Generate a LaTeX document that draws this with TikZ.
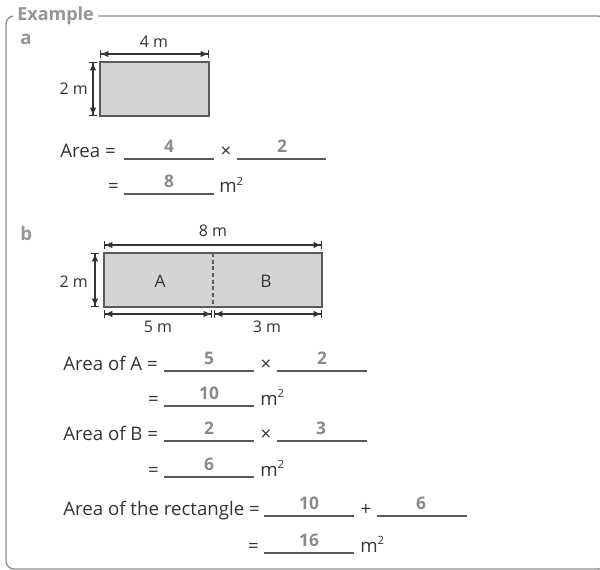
\documentclass[tikz,border=0pt]{standalone}
\usepackage{fontspec}
\setmainfont{Open Sans}
\usetikzlibrary{arrows.meta}
\definecolor{rahmengrau}{HTML}{8E8E8E}
\definecolor{titelgrau}{HTML}{959595}
\definecolor{antwortgrau}{HTML}{8A8A8A}
\definecolor{flaeche}{HTML}{D4D4D6}
\definecolor{kante}{HTML}{5A5A5A}
\definecolor{tinte}{HTML}{333333}
\newcommand{\qm}{m\raisebox{0.75ex}{\fontsize{8.5}{9}\selectfont 2}}

\begin{document}
\begin{tikzpicture}[x=0.75pt,y=-0.75pt,
rahmen/.style={draw=rahmengrau,line width=1pt,rounded corners=6pt},
titel/.style={text=titelgrau,fill=white,font=\fontsize{13.5}{15}\selectfont\bfseries,inner xsep=3pt,inner ysep=1pt},
teil/.style={text=titelgrau,font=\fontsize{14}{16}\selectfont\bfseries,inner sep=0pt},
rechteck/.style={draw=kante,fill=flaeche,line width=0.9pt},
bemassung/.style={draw=tinte,line width=0.8pt,{Bar[width=6.5pt]Latex[length=5.5pt,width=5pt]}-{Latex[length=5.5pt,width=5pt]Bar[width=6.5pt]}},
masz/.style={text=tinte,font=\fontsize{12}{14}\selectfont,inner sep=0pt},
zeile/.style={text=tinte,font=\fontsize{14}{16}\selectfont,inner sep=0pt},
antwort/.style={text=antwortgrau,font=\fontsize{13}{15}\selectfont\bfseries,inner sep=0pt,anchor=base},
linie/.style={draw=kante,line width=0.8pt}]

\useasboundingbox (0,0) rectangle (600,570);

% Rahmen
\draw[rahmen] (6,16) rectangle (606,569);
\node[titel,anchor=base west] (example) at (13,21) {Example};

% Teil a
\node[teil,anchor=base west] (teila) at (20,45) {a};
\coordinate (a1) at (100,62);
\coordinate (a2) at (209,116);
\draw[rechteck] (a1) rectangle (a2);
\coordinate (aob1) at (100,54);
\coordinate (aob2) at (209,54);
\draw[bemassung] (aob1) -- (aob2);
\node[masz,anchor=base] (vierm) at (154,48) {4 m};
\coordinate (ali1) at (93,62);
\coordinate (ali2) at (93,116);
\draw[bemassung] (ali1) -- (ali2);
\node[masz,anchor=base east] (zweima) at (88,95) {2 m};

% Rechnung a
\def\Y{158}
\node[zeile,anchor=base west] (areaa) at (60,\Y) {Area =};
\draw[linie] (124,\Y+1) -- (214,\Y+1);
\node[antwort] (aw1) at (169,\Y-5) {4};
\node[zeile,anchor=base] (mal1) at (226,\Y) {×};
\draw[linie] (237,\Y+1) -- (326,\Y+1);
\node[antwort] (aw2) at (282,\Y-5) {2};
\def\Y{193}
\node[zeile,anchor=base east] (gl1) at (119,\Y) {=};
\draw[linie] (124,\Y+1) -- (214,\Y+1);
\node[antwort] (aw3) at (169,\Y-5) {8};
\node[zeile,anchor=base west] (m1) at (219,\Y) {\qm};

% Teil b
\node[teil,anchor=base west] (teilb) at (20,241) {b};
\coordinate (b1) at (104,253);
\coordinate (b2) at (322,307);
\draw[rechteck] (b1) rectangle (b2);
\coordinate (bmo) at (213,253);
\coordinate (bmu) at (213,307);
\draw[kante,line width=0.8pt,dash pattern=on 3pt off 2pt] (bmo) -- (bmu);
\node[zeile,font=\fontsize{13}{15}\selectfont,anchor=base] (feldA) at (160,288) {A};
\node[zeile,font=\fontsize{13}{15}\selectfont,anchor=base] (feldB) at (266,288) {B};
\coordinate (bob1) at (104,245);
\coordinate (bob2) at (322,245);
\draw[bemassung] (bob1) -- (bob2);
\node[masz,anchor=base] (achtm) at (213,237) {8 m};
\coordinate (bli1) at (95,253);
\coordinate (bli2) at (95,307);
\draw[bemassung] (bli1) -- (bli2);
\node[masz,anchor=base east] (zweimb) at (88,288) {2 m};
\coordinate (bun1) at (104,314);
\coordinate (bun2) at (212,314);
\coordinate (bun3) at (214,314);
\coordinate (bun4) at (322,314);
\draw[bemassung] (bun1) -- (bun2);
\draw[bemassung] (bun3) -- (bun4);
\node[masz,anchor=base] (fuenfm) at (158,333) {5 m};
\node[masz,anchor=base] (dreim) at (267,333) {3 m};

% Rechnung b
\def\Y{370}
\node[zeile,anchor=base west] (areaA) at (63,\Y) {Area of A =};
\draw[linie] (164,\Y+1) -- (254,\Y+1);
\node[antwort] (bw1) at (209,\Y-6) {5};
\node[zeile,anchor=base] (mal2) at (266,\Y) {×};
\draw[linie] (277,\Y+1) -- (367,\Y+1);
\node[antwort] (bw2) at (322,\Y-6) {2};
\def\Y{405}
\node[zeile,anchor=base east] (gl2) at (159,\Y) {=};
\draw[linie] (164,\Y+1) -- (254,\Y+1);
\node[antwort] (bw3) at (209,\Y-6) {10};
\node[zeile,anchor=base west] (m2) at (260,\Y) {\qm};
\def\Y{440}
\node[zeile,anchor=base west] (areaB) at (63,\Y) {Area of B =};
\draw[linie] (164,\Y+1) -- (254,\Y+1);
\node[antwort] (bw4) at (209,\Y-6) {2};
\node[zeile,anchor=base] (mal3) at (266,\Y) {×};
\draw[linie] (277,\Y+1) -- (367,\Y+1);
\node[antwort] (bw5) at (321,\Y-6) {3};
\def\Y{476}
\node[zeile,anchor=base east] (gl3) at (159,\Y) {=};
\draw[linie] (164,\Y+1) -- (254,\Y+1);
\node[antwort] (bw6) at (209,\Y-6) {6};
\node[zeile,anchor=base west] (m3) at (260,\Y) {\qm};
\def\Y{515}
\node[zeile,anchor=base west] (areaR) at (63,\Y) {Area of the rectangle =};
\draw[linie] (264,\Y+1) -- (354,\Y+1);
\node[antwort] (bw7) at (309,\Y-6) {10};
\node[zeile,anchor=base] (plus) at (366,\Y) {+};
\draw[linie] (377,\Y+1) -- (467,\Y+1);
\node[antwort] (bw8) at (421,\Y-6) {6};
\def\Y{552}
\node[zeile,anchor=base east] (gl4) at (259,\Y) {=};
\draw[linie] (264,\Y+1) -- (354,\Y+1);
\node[antwort] (bw9) at (309,\Y-6) {16};
\node[zeile,anchor=base west] (m4) at (360,\Y) {\qm};

\end{tikzpicture}
\end{document}
